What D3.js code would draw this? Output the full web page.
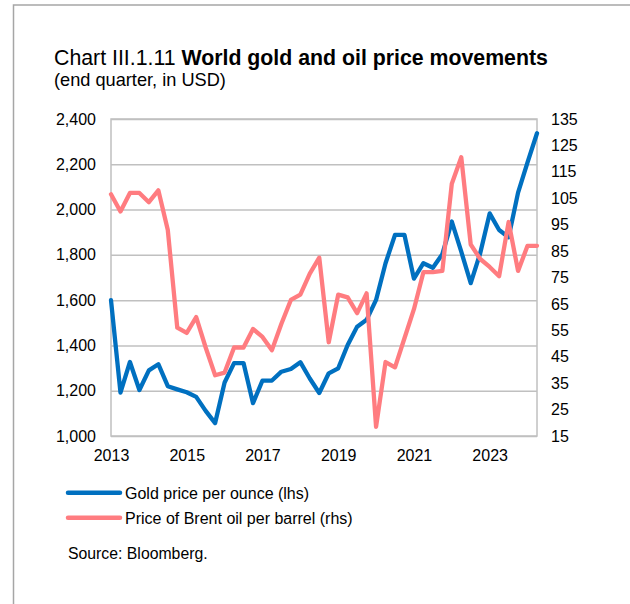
<!DOCTYPE html>
<html>
<head>
<meta charset="utf-8">
<script src="https://cdn.jsdelivr.net/npm/d3@7/dist/d3.min.js"></script>
<style>
  html, body { margin: 0; padding: 0; background: #fff; }
  svg { display: block; font-family: "Liberation Sans", Arial, sans-serif; }
</style>
</head>
<body>
<svg id="chart" width="630" height="604"></svg>
<script>
// Quarter-end observations, 2013Q1 – 2024Q2
const quarters = [
  "2013Q1","2013Q2","2013Q3","2013Q4",
  "2014Q1","2014Q2","2014Q3","2014Q4",
  "2015Q1","2015Q2","2015Q3","2015Q4",
  "2016Q1","2016Q2","2016Q3","2016Q4",
  "2017Q1","2017Q2","2017Q3","2017Q4",
  "2018Q1","2018Q2","2018Q3","2018Q4",
  "2019Q1","2019Q2","2019Q3","2019Q4",
  "2020Q1","2020Q2","2020Q3","2020Q4",
  "2021Q1","2021Q2","2021Q3","2021Q4",
  "2022Q1","2022Q2","2022Q3","2022Q4",
  "2023Q1","2023Q2","2023Q3","2023Q4",
  "2024Q1","2024Q2"
];

// Gold, USD per ounce (left axis)
const gold = [
  1600, 1192, 1327, 1203,
  1290, 1317, 1220, 1206,
  1193, 1173, 1111, 1057,
  1236, 1322, 1322, 1145,
  1245, 1245, 1284, 1296,
  1326, 1254, 1190, 1277,
  1299, 1402, 1483, 1513,
  1601, 1763, 1888, 1888,
  1695, 1763, 1743, 1803,
  1947, 1814, 1675, 1807,
  1983, 1910, 1878, 2075,
  2208, 2337
];

// Brent crude, USD per barrel (right axis)
const brent = [
  106.5, 100, 107, 107,
  103.5, 108, 93, 56,
  54, 60, 48.5, 38,
  39, 48.5, 48.5, 55.5,
  52.5, 47.5, 57.5, 66.5,
  68.5, 76.5, 82.5, 50.5,
  68.5, 67.5, 61.5, 69,
  18.5, 43, 41, 52,
  63, 77, 77, 77.5,
  110.5, 120.5, 87.5, 82,
  79, 75.5, 96, 77.5,
  87, 87
];

const goldTicks = [1000, 1200, 1400, 1600, 1800, 2000, 2200, 2400];
const brentTicks = [15, 25, 35, 45, 55, 65, 75, 85, 95, 105, 115, 125, 135];
const yearTicks = ["2013Q1", "2015Q1", "2017Q1", "2019Q1", "2021Q1", "2023Q1"];

const seriesNames = ["Gold price per ounce (lhs)", "Price of Brent oil per barrel (rhs)"];
const seriesColors = ["#0070C0", "#FF7C80"];

const svg = d3.select("#chart");

// Plot area
const plotLeft = 111, plotRight = 537, plotTop = 119, plotBottom = 436;

const x = d3.scalePoint().domain(quarters).range([plotLeft, plotRight]);
const yGold = d3.scaleLinear().domain([1000, 2400]).range([plotBottom, plotTop]);
const yBrent = d3.scaleLinear().domain([15, 135]).range([plotBottom, plotTop]);

const labelFont = g => g.selectAll("text")
  .attr("font-size", 16)
  .attr("fill", "#000")
  .attr("font-family", "Liberation Sans, Arial, sans-serif");

// Outer frame (left and top edges)
svg.append("path")
  .attr("d", "M13.5,604 L13.5,5 L630,5")
  .attr("fill", "none")
  .attr("stroke", "#a6a6a6")
  .attr("stroke-width", 1.5);

// Title
const title = svg.append("text")
  .attr("x", 54).attr("y", 64.5)
  .attr("font-size", 21.3)
  .attr("fill", "#000");
title.append("tspan").text("Chart III.1.11 ");
title.append("tspan").attr("font-weight", "bold").text("World gold and oil price movements");

svg.append("text")
  .attr("x", 54).attr("y", 85.5)
  .attr("font-size", 18.2)
  .attr("fill", "#000")
  .text("(end quarter, in USD)");

// Horizontal gridlines
svg.append("g")
  .attr("transform", `translate(${plotLeft},0)`)
  .call(d3.axisLeft(yGold).tickValues(goldTicks).tickSize(-(plotRight - plotLeft)).tickFormat(""))
  .call(g => g.select(".domain").remove())
  .call(g => g.selectAll("line").attr("stroke", "#c0c0c0").attr("stroke-width", 1.5));

// Plot border
svg.append("rect")
  .attr("x", plotLeft).attr("y", plotTop)
  .attr("width", plotRight - plotLeft).attr("height", plotBottom - plotTop)
  .attr("fill", "none")
  .attr("stroke", "#c0c0c0")
  .attr("stroke-width", 1.5);

// Left axis labels
svg.append("g")
  .attr("transform", `translate(${plotLeft},0)`)
  .call(d3.axisLeft(yGold).tickValues(goldTicks).tickSize(0).tickPadding(15)
    .tickFormat(d3.format(",")))
  .call(g => g.select(".domain").remove())
  .call(labelFont);

// Right axis labels
svg.append("g")
  .attr("transform", `translate(${plotRight},0)`)
  .call(d3.axisRight(yBrent).tickValues(brentTicks).tickSize(0).tickPadding(14))
  .call(g => g.select(".domain").remove())
  .call(labelFont);

// Bottom axis labels (years)
svg.append("g")
  .attr("transform", `translate(0,${plotBottom})`)
  .call(d3.axisBottom(x).tickValues(yearTicks).tickSize(0).tickPadding(13.5)
    .tickFormat(d => d.slice(0, 4)))
  .call(g => g.select(".domain").remove())
  .call(labelFont);

// Series lines
const goldLine = d3.line().x((d, i) => x(quarters[i])).y(d => yGold(d));
const brentLine = d3.line().x((d, i) => x(quarters[i])).y(d => yBrent(d));

svg.append("path")
  .datum(gold)
  .attr("d", goldLine)
  .attr("fill", "none")
  .attr("stroke", seriesColors[0])
  .attr("stroke-width", 4.3)
  .attr("stroke-linejoin", "round")
  .attr("stroke-linecap", "round");

svg.append("path")
  .datum(brent)
  .attr("d", brentLine)
  .attr("fill", "none")
  .attr("stroke", seriesColors[1])
  .attr("stroke-width", 4.3)
  .attr("stroke-linejoin", "round")
  .attr("stroke-linecap", "round");

// Legend
const legend = svg.append("g");
seriesNames.forEach((name, i) => {
  const cy = 492.7 + i * 25;
  legend.append("line")
    .attr("x1", 68).attr("x2", 120)
    .attr("y1", cy).attr("y2", cy)
    .attr("stroke", seriesColors[i])
    .attr("stroke-width", 4.5)
    .attr("stroke-linecap", "round");
  legend.append("text")
    .attr("x", 125).attr("y", cy + 5.8)
    .attr("font-size", 16)
    .attr("fill", "#000")
    .text(name);
});

// Source note
svg.append("text")
  .attr("x", 68).attr("y", 559)
  .attr("font-size", 15.8)
  .attr("fill", "#000")
  .text("Source: Bloomberg.");
</script>
</body>
</html>
